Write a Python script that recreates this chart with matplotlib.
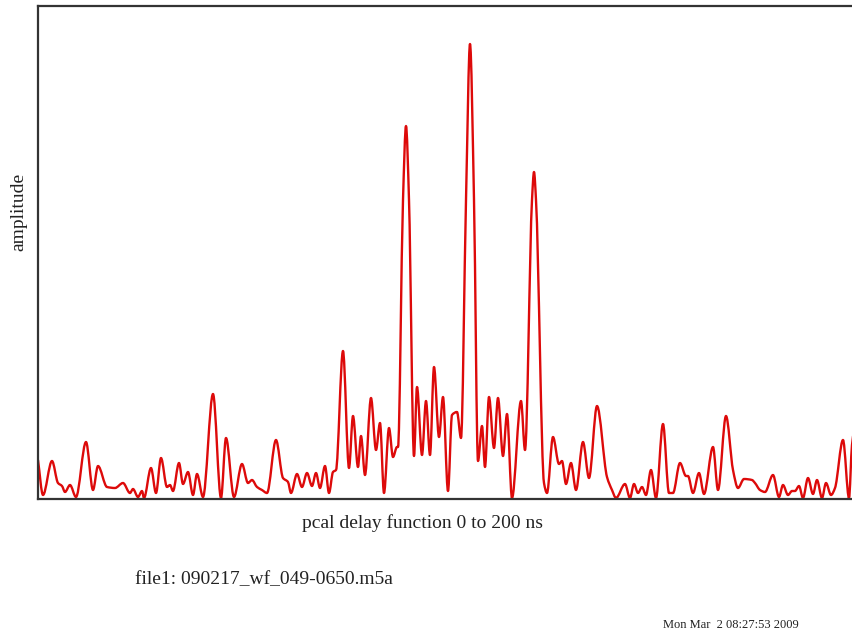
import matplotlib
matplotlib.use("Agg")
import matplotlib.pyplot as plt
import numpy as np
from matplotlib.path import Path
from matplotlib.patches import PathPatch

# delay position (axis units, 0 at left spine) and amplitude (arbitrary units)
delay = [0, 5, 14, 20, 24, 27, 32, 38, 48, 55, 60, 69, 77, 85, 92, 95, 100, 104, 106,
         113, 118, 123, 129, 132, 135, 141, 145, 150, 155, 159, 165, 175, 183, 188, 196,
         204, 210, 214, 219, 224, 229, 238, 245, 250, 253, 259, 264, 269, 274, 278, 282,
         287, 291, 295, 298, 305, 311, 315, 320, 323, 327, 333, 338, 342, 346, 351, 355,
         359, 360, 365, 368, 371, 376, 379, 384, 388, 392, 396, 401, 405, 410, 414, 419,
         423, 428, 432, 436, 440, 444, 447, 451, 456, 460, 465, 469, 474, 483, 487, 494,
         496, 498, 506, 509, 515, 521, 524, 528, 533, 538, 545, 551, 559, 569, 574, 578,
         587, 592, 596, 600, 604, 608, 613, 618, 625, 631, 635, 642, 648, 650, 655, 661,
         666, 675, 680, 688, 695, 700, 706, 714, 717, 722, 727, 735, 741, 745, 750, 754,
         757, 761, 765, 770, 775, 779, 784, 788, 793, 797, 805, 811, 814, 818]
amplitude = [39, 4, 38, 16, 13, 7, 14, 2, 57, 9, 33, 12, 11, 16, 6, 10, 2, 8, 1,
             31, 6, 41, 12, 14, 8, 36, 15, 27, 4, 25, 2, 105, 1, 61, 2,
             35, 16, 19, 12, 9, 6, 59, 21, 17, 6, 25, 12, 26, 13, 26, 11,
             33, 6, 27, 29, 148, 31, 83, 32, 63, 24, 101, 49, 76, 6, 71, 42,
             52, 52, 299, 373, 299, 43, 112, 44, 98, 44, 132, 62, 102, 8, 84, 87,
             61, 299, 455, 299, 38, 73, 32, 102, 51, 101, 43, 85, 1, 98, 49, 299,
             327, 299, 16, 6, 62, 35, 38, 15, 36, 9, 57, 21, 93, 22, 9, 1,
             15, 1, 15, 6, 12, 4, 29, 1, 75, 6, 6, 36, 23, 23, 6, 26,
             5, 52, 9, 83, 29, 11, 20, 19, 16, 9, 7, 24, 2, 14, 4, 8,
             8, 13, 1, 21, 5, 19, 1, 16, 4, 11, 59, 1, 54, 79]

x_label = "pcal delay function 0 to 200 ns"
y_label = "amplitude"
file_text = "file1: 090217_wf_049-0650.m5a"
date_text = "Mon Mar  2 08:27:53 2009"


def smooth_path(xs, ys):
    """Bezier path through the read points (monotone cubic tangents, no overshoot)."""
    x = np.asarray(xs, float)
    y = np.asarray(ys, float)
    h = np.diff(x)
    d = np.diff(y) / h
    n = len(x)
    m = np.zeros(n)
    m[0], m[-1] = d[0], d[-1]
    for i in range(1, n - 1):
        if d[i - 1] * d[i] > 0:
            w1 = 2 * h[i] + h[i - 1]
            w2 = h[i] + 2 * h[i - 1]
            m[i] = (w1 + w2) / (w1 / d[i - 1] + w2 / d[i])
    verts = [(x[0], y[0])]
    codes = [Path.MOVETO]
    for i in range(n - 1):
        verts += [(x[i] + h[i] / 3, y[i] + m[i] * h[i] / 3),
                  (x[i + 1] - h[i] / 3, y[i + 1] - m[i + 1] * h[i] / 3),
                  (x[i + 1], y[i + 1])]
        codes += [Path.CURVE4] * 3
    return Path(verts, codes)


plt.rcParams['font.family'] = ['Liberation Serif', 'DejaVu Serif']

W, H = 852, 637
fig = plt.figure(figsize=(W / 100, H / 100), dpi=100)
ax = fig.add_axes([38 / W, (H - 499) / H, 814 / W, 493 / H])
ax.add_patch(PathPatch(smooth_path(delay, amplitude), fill=False,
                       edgecolor='#dd0a0a', linewidth=1.7, joinstyle='round'))
ax.set_xlim(0, 814)
ax.set_ylim(0, 493)
ax.set_xticks([])
ax.set_yticks([])
ax.spines['right'].set_visible(False)
for s in ['left', 'bottom', 'top']:
    ax.spines[s].set_color('#333333')
    ax.spines[s].set_linewidth(1.6)

fig.text(422 / W, 1 - 523 / H, x_label, fontsize=14, ha='center', va='center', color='#222222')
fig.text(19 / W, 1 - 212 / H, y_label, fontsize=14, ha='center', va='center', rotation=90, color='#222222')
fig.text(135 / W, 1 - 580 / H, file_text, fontsize=14, ha='left', va='center', color='#222222')
fig.text(663 / W, 1 - 625 / H, date_text, fontsize=9, ha='left', va='center', color='#222222')

fig.savefig('out.png', dpi=100)
